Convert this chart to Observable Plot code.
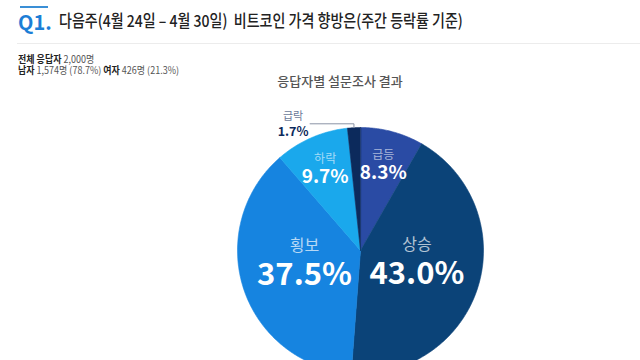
<!DOCTYPE html>
<html><head><meta charset="utf-8">
<script src="https://cdn.jsdelivr.net/npm/d3@7"></script>
<script src="https://cdn.jsdelivr.net/npm/@observablehq/plot@0.6"></script>
<style>
html,body{margin:0;padding:0;width:640px;height:360px;overflow:hidden;background:#fff;font-family:"Noto Sans CJK KR","Noto Sans",sans-serif;}
#wrap{position:relative;width:640px;height:360px;}
.abs{position:absolute;white-space:nowrap;}
</style></head>
<body><div id="wrap">
<div class="abs" style="left:20px;top:6px;width:28px;height:2px;background:#3a8fd6"></div>
<div class="abs" id="q" style="left:18px;top:12px;font:700 20px/1 'Noto Sans CJK KR';color:#1c7ed6">Q1.</div>
<div class="abs" id="title" style="left:59px;top:12px;font:500 16.5px/1 'Noto Sans CJK KR';color:#222;transform:scaleX(0.85);transform-origin:left center">다음주(4월 24일 – 4월 30일)&nbsp; 비트코인 가격 향방은(주간 등락률 기준)</div>
<div class="abs" style="left:17px;top:43px;width:623px;height:1px;background:#ececec"></div>
<div class="abs" style="left:18px;top:53px;font:400 10px/1.1 'Noto Sans CJK KR';color:#555;transform:scaleX(0.9);transform-origin:left center"><b style="color:#222">전체 응답자</b> 2,000명</div>
<div class="abs" style="left:18px;top:64px;font:400 10px/1.1 'Noto Sans CJK KR';color:#555;transform:scaleX(0.9);transform-origin:left center"><b style="color:#222">남자</b> 1,574명 (78.7%) <b style="color:#222">여자</b> 426명 (21.3%)</div>
<div class="abs" id="sub" style="left:0;width:680px;text-align:center;top:74px;font:500 13px/1 'Noto Sans CJK KR';color:#555">응답자별 설문조사 결과</div>
<div class="abs" id="chart" style="left:0;top:90px"></div>
</div>
<script>
const categories = ["급등", "상승", "횡보", "하락", "급락"];
const values = [8.3, 43.0, 37.5, 9.7, 1.7];
const colors = ["#2a4ba4", "#0b4378", "#1684e0", "#1aa8ec", "#0c2a5c"];

const total = d3.sum(values);
let acc = 0;
const slices = categories.map((c, i) => {
  const a0 = acc / total * 2 * Math.PI;
  acc += values[i];
  const a1 = acc / total * 2 * Math.PI;
  return {cat: c, value: values[i], a0, a1, mid: (a0 + a1) / 2};
});

// polygon points for each slice
const pts = [];
for (const s of slices) {
  pts.push({cat: s.cat, x: 0, y: 0});
  const n = Math.max(2, Math.ceil((s.a1 - s.a0) / (Math.PI / 360)));
  for (let k = 0; k <= n; k++) {
    const a = s.a0 + (s.a1 - s.a0) * k / n;
    pts.push({cat: s.cat, x: Math.sin(a), y: Math.cos(a)});
  }
}

const big = slices.filter(s => s.value >= 20);
const mid = slices.filter(s => s.value >= 3 && s.value < 20);
const small = slices.filter(s => s.value < 3);
const at = (s, r) => ({...s, x: r * Math.sin(s.mid), y: r * Math.cos(s.mid)});
const bigL = big.map(s => at(s, 0.48));
const midL = mid.map(s => at(s, 0.72));

// leader for small slice
const leader = [];
const smallL = [];
for (const s of small) {
  const ex = Math.sin(s.mid), ey = Math.cos(s.mid);
  leader.push({cat: s.cat, x: ex, y: ey});
  leader.push({cat: s.cat, x: ex, y: 1.03});
  leader.push({cat: s.cat, x: -0.41, y: 1.03});
  smallL.push({...s, x: -0.41, y: 1.03});
}
const pct = v => v.toFixed(1) + "%";

const R = 123, cx = 360, cy = 160, W = 640, H = 300;
const chart = Plot.plot({
  width: W, height: H,
  marginLeft: cx - R, marginRight: W - cx - R,
  marginTop: cy - R, marginBottom: H - cy - R,
  x: {domain: [-1, 1], axis: null},
  y: {domain: [-1, 1], axis: null},
  color: {domain: categories, range: colors},
  style: {fontFamily: "'Noto Sans CJK KR', sans-serif", overflow: "visible"},
  marks: [
    Plot.line(pts, {x: "x", y: "y", z: "cat", fill: "cat", stroke: "cat", strokeWidth: 0.6, curve: "linear-closed"}),
    Plot.line(leader, {x: "x", y: "y", z: "cat", stroke: "#8a93a6", strokeWidth: 1}),
    Plot.text(bigL, {x: "x", y: "y", text: "cat", fill: "white", fillOpacity: 0.7, fontSize: 16, dy: -23}),
    Plot.text(bigL, {x: "x", y: "y", text: d => pct(d.value), fill: "white", fontSize: 31, fontWeight: 700, dy: 6}),
    Plot.text(midL, {x: "x", y: "y", text: "cat", fill: "white", fillOpacity: 0.6, fontSize: 12, dy: -10}),
    Plot.text(midL, {x: "x", y: "y", text: d => pct(d.value), fill: "white", fontSize: 19, fontWeight: 700, dy: 8}),
    Plot.text(smallL, {x: "x", y: "y", text: "cat", fill: "#6b7a99", fontSize: 11, dx: -17, dy: -7}),
    Plot.text(smallL, {x: "x", y: "y", text: d => pct(d.value), fill: "#0c2a5c", fontSize: 12.5, fontWeight: 700, dx: -17, dy: 8})
  ]
});
document.getElementById("chart").appendChild(chart);
</script>
</body></html>
